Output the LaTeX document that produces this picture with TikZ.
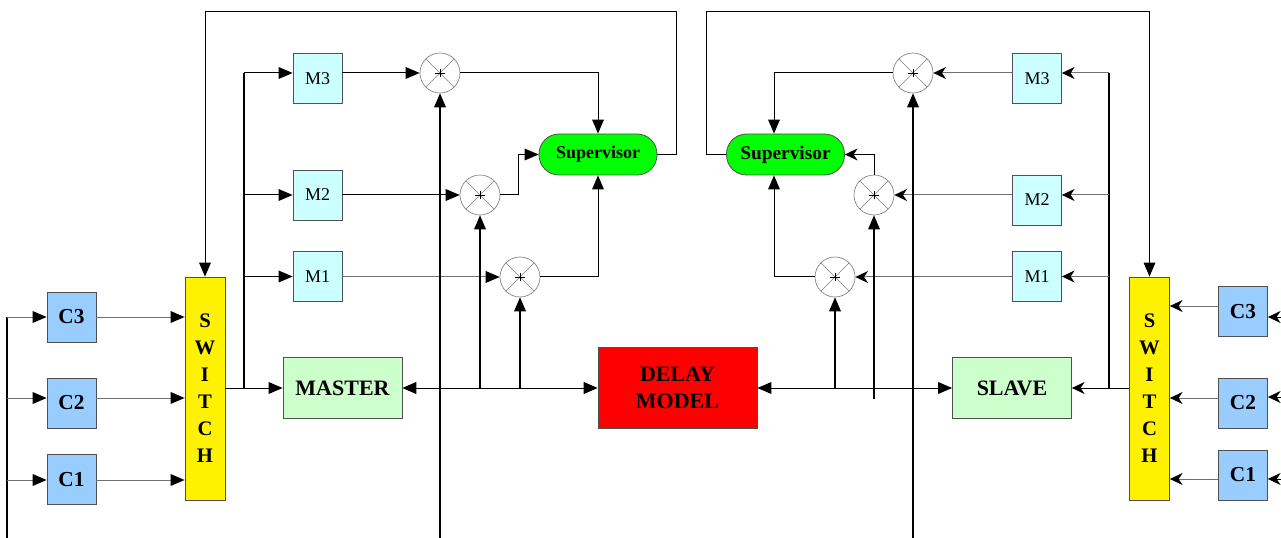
\documentclass[tikz,border=0pt]{standalone}
\usepackage{fontspec}
\setmainfont{Liberation Serif}
\usetikzlibrary{arrows.meta,calc}
\definecolor{cblue}{HTML}{99CCFF}
\definecolor{mcyan}{HTML}{CCFFFF}
\definecolor{mgreen}{HTML}{CCFFCC}
\definecolor{sgreen}{HTML}{00FF00}
\definecolor{edge}{HTML}{505050}
\definecolor{wgray}{HTML}{707070}
\begin{document}
\begin{tikzpicture}[x=0.75pt,y=-0.75pt,
 box/.style={draw=edge,line width=0.6pt,inner sep=0pt},
 cbox/.style={box,fill=cblue,minimum width=36.75pt,minimum height=37.5pt,font=\fontsize{16}{18}\selectfont\bfseries},
 mbox/.style={box,fill=mcyan,minimum width=36.75pt,minimum height=37.5pt,font=\fontsize{13.5}{15}\selectfont},
 ctrl/.style={box,fill=mgreen,minimum width=89.25pt,minimum height=45.75pt,font=\fontsize{16.5}{19}\selectfont\bfseries},
 swbox/.style={box,fill=yellow,minimum width=30pt,minimum height=167.25pt,align=center,font=\fontsize{15.5}{20.25}\selectfont\bfseries},
 delaybox/.style={box,fill=red,minimum width=119.25pt,minimum height=60.75pt,align=center,font=\fontsize{16.5}{20}\selectfont\bfseries},
 sup/.style={box,fill=sgreen,rounded corners=15pt,minimum width=88.5pt,minimum height=30.75pt,font=\bfseries},
 mult/.style={circle,draw=gray,line width=0.5pt,fill=white,minimum size=30pt,inner sep=0pt,
   path picture={
     \draw[gray,line width=0.4pt] (path picture bounding box.north west) -- (path picture bounding box.south east)
        (path picture bounding box.north east) -- (path picture bounding box.south west);
     \draw[black,line width=0.5pt] ([xshift=-3.5pt]path picture bounding box.center) -- ([xshift=3.5pt]path picture bounding box.center)
        ([yshift=-3pt]path picture bounding box.center) -- ([yshift=3pt]path picture bounding box.center);}},
 wire/.style={draw=black,line width=0.75pt},
 gwire/.style={draw=wgray,line width=0.75pt},
 bus/.style={draw=black,line width=1.3pt},
 arr/.style={-{Triangle[length=10.5pt,width=9pt,color=black,line width=0pt]}},
 arrboth/.style={{Triangle[length=10.5pt,width=9pt,color=black]}-{Triangle[length=10.5pt,width=9pt,color=black]}},
 arrs/.style={-{Stealth[length=9.5pt,width=9pt,inset=3pt,color=black]}}
]
\useasboundingbox (0,0) rectangle (1281,538);

% ---------------- nodes ----------------
\node[cbox] (C3L) at (71.5,317) {C3};
\node[cbox] (C2L) at (71.5,403) {C2};
\node[cbox] (C1L) at (71.5,479.5) {C1};
\node[swbox] (SWL) at (205,388.5) {S\\W\\I\\T\\C\\H};
\node[ctrl] (MASTER) at (342.5,388) {MASTER};
\node[mbox] (M3L) at (317.5,78.5) {M3};
\node[mbox] (M2L) at (317.5,195) {M2};
\node[mbox] (M1L) at (317.5,276.5) {M1};
\node[mult] (X3L) at (440,73) {};
\node[mult] (X2L) at (480,195) {};
\node[mult] (X1L) at (520,277) {};
\node[sup,font=\fontsize{13.5}{16}\selectfont\bfseries] (SupL) at (598,154.5) {Supervisor};
\node[delaybox] (DELAY) at (677.5,388) {DELAY\\MODEL};

\node[sup,font=\fontsize{14.5}{17}\selectfont\bfseries] (SupR) at (785.5,154.5) {Supervisor};
\node[mult] (X3R) at (913,73) {};
\node[mult] (X2R) at (874,195) {};
\node[mult] (X1R) at (835,277) {};
\node[mbox] (M3R) at (1037,78.5) {M3};
\node[mbox] (M2R) at (1037,200) {M2};
\node[mbox] (M1R) at (1037,276.5) {M1};
\node[ctrl] (SLAVE) at (1012,388) {SLAVE};
\node[swbox] (SWR) at (1149.5,388.5) {S\\W\\I\\T\\C\\H};
\node[cbox] (C3R) at (1243,311.5) {C3};
\node[cbox] (C2R) at (1243,403) {C2};
\node[cbox] (C1R) at (1243,475) {C1};

% ---------------- coordinates ----------------
\coordinate (lt) at (7,317);
\coordinate (l2) at (7,398);
\coordinate (l1) at (7,480);
\coordinate (lb) at (7,538);
\coordinate (bL) at (244,388);
\coordinate (bL3) at (244,73);
\coordinate (fbL) at (676,12);
\coordinate (v3L) at (440,538);
\coordinate (v2L) at (480,388);
\coordinate (v1L) at (520,388);

\coordinate (bR) at (1109,388);
\coordinate (bR3) at (1109,73);
\coordinate (bR2) at (1109,195);
\coordinate (fbR) at (706,12);
\coordinate (sR) at (774,154.5);
\coordinate (v3R) at (913,538);
\coordinate (v2R) at (874,399);
\coordinate (v1R) at (835,388);
\coordinate (r3o) at (1218,306);
\coordinate (r2o) at (1218,398);
\coordinate (r1o) at (1218,479);
\coordinate (r3i) at (1281,317);
\coordinate (r2i) at (1281,397);
\coordinate (r1i) at (1281,479);

% ---------------- left side ----------------
\draw[bus] (lt) -- (lb);
\draw[gwire,arr] (lt) -- (C3L.west);
\draw[gwire,arr] (l2) -- (l2 -| C2L.west);
\draw[gwire,arr] (l1) -- (l1 -| C1L.west);
\draw[gwire,arr] (C3L.east) -- (C3L.east -| SWL.west);
\draw[gwire,arr] (l2 -| C2L.east) -- (l2 -| SWL.west);
\draw[gwire,arr] (l1 -| C1L.east) -- (l1 -| SWL.west);

\draw[wire] (bL -| SWL.east) -- (bL);
\draw[wire,arr] (bL) -- (MASTER.west);
\draw[bus] (bL) -- (bL3);
\draw[wire,arr] (bL3) -- (bL3 -| M3L.west);
\draw[wire,arr] (bL |- M2L.west) -- (M2L.west);
\draw[wire,arr] (bL |- M1L.west) -- (M1L.west);

\draw[wire,arr] (X3L -| M3L.east) -- (X3L.west);
\draw[wire,arr] (M2L.east) -- (X2L.west);
\draw[gwire,arr] (X1L -| M1L.east) -- (X1L.west);

\draw[wire,arr] (X3L.east) -| (SupL.north);
\draw[wire,arr] (X1L.east) -| (SupL.south);
\draw[wire,arr] (X2L.east) -- ++(18,0) |- (SupL.west);
\draw[wire,arr] (SupL.east) -| (fbL) -| (SWL.north);

\draw[bus,arr] (v3L) -- (X3L.south);
\draw[bus,arr] (v2L) -- (X2L.south);
\draw[bus,arr] (v1L) -- (X1L.south);

\draw[wire,arrboth] (MASTER.east) -- (DELAY.west);

% ---------------- right side ----------------
\draw[wire,arr] (v1R) -- (DELAY.east);
\draw[wire,arr] (v1R) -- (SLAVE.west);

\draw[wire] (bR -| SWR.west) -- (bR);
\draw[wire,arrs] (bR) -- (SLAVE.east);
\draw[bus] (bR) -- (bR3);
\draw[gwire,arrs] (bR3) -- (bR3 -| M3R.east);
\draw[gwire,arrs] (bR2) -- (bR2 -| M2R.east);
\draw[gwire,arrs] (bR |- M1R.east) -- (M1R.east);

\draw[gwire,arrs] (X3R -| M3R.west) -- (X3R.east);
\draw[gwire,arrs] (bR2 -| M2R.west) -- (X2R.east);
\draw[gwire,arrs] (X1R -| M1R.west) -- (X1R.east);

\draw[wire,arr] (X3R.west) -| (sR |- SupR.north);
\draw[wire,arr] (X1R.west) -| (sR |- SupR.south);
\draw[wire,arrs] (X2R.north) |- (SupR.east);
\draw[wire,arr] (SupR.west) -| (fbR) -| (SWR.north);

\draw[bus,arr] (v3R) -- (X3R.south);
\draw[bus,arr] (v2R) -- (X2R.south);
\draw[bus,arr] (v1R) -- (X1R.south);

\draw[gwire,arrs] (r3o) -- (r3o -| SWR.east);
\draw[gwire,arrs] (r2o) -- (r2o -| SWR.east);
\draw[gwire,arrs] (r1o) -- (r1o -| SWR.east);
\draw[wire,arrs] (r3i) -- (r3i -| C3R.east);
\draw[wire,arrs] (r2i) -- (r2i -| C2R.east);
\draw[wire,arrs] (r1i) -- (r1i -| C1R.east);
\end{tikzpicture}
\end{document}
